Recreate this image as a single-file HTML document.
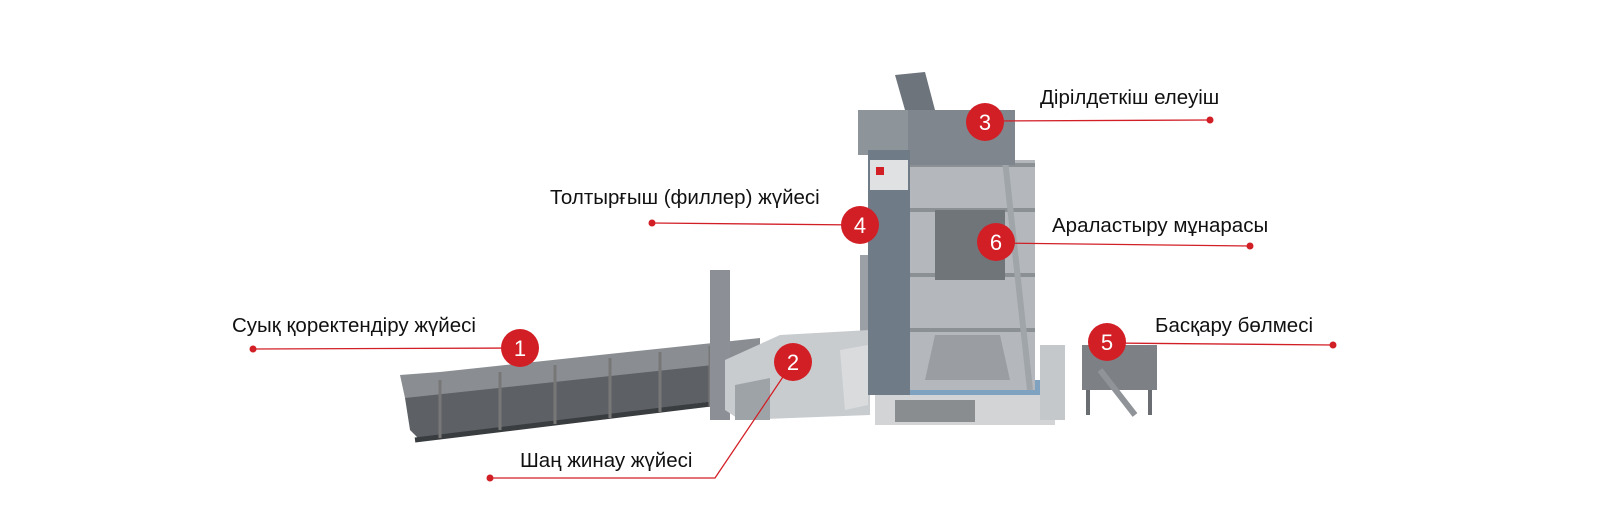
<!DOCTYPE html>
<html><head><meta charset="utf-8"><style>
html,body{margin:0;padding:0;background:#fff;}
svg{display:block}
text{font-family:"Liberation Sans",sans-serif;font-size:20.5px;fill:#111}
.n{font-size:22px;fill:#fff;text-anchor:middle}
</style></head><body>
<svg width="1600" height="521" viewBox="0 0 1600 521" xmlns="http://www.w3.org/2000/svg">
<!-- cold feed bins -->
<polygon points="400,375 440,372 760,338 760,360 440,400 405,398" fill="#8a8e92"/>
<polygon points="405,398 760,360 760,395 420,440 410,430" fill="#5d6166"/>
<line x1="415" y1="440" x2="760" y2="398" stroke="#3a3d40" stroke-width="5"/>
<g stroke="#777" stroke-width="3">
<line x1="440" y1="380" x2="440" y2="438"/><line x1="500" y1="372" x2="500" y2="430"/><line x1="555" y1="365" x2="555" y2="424"/><line x1="610" y1="358" x2="610" y2="418"/><line x1="660" y1="352" x2="660" y2="412"/><line x1="710" y1="346" x2="710" y2="406"/>
</g>
<!-- stack -->
<rect x="710" y="270" width="20" height="150" fill="#8c9096"/>
<rect x="860" y="255" width="9" height="80" fill="#9aa0a6"/>
<!-- dryer / baghouse -->
<polygon points="725,360 780,335 870,330 870,415 740,420 725,410" fill="#c9cccf"/>
<polygon points="735,385 770,378 770,420 735,420" fill="#9ea3a8"/>
<polygon points="840,350 868,345 868,405 845,410" fill="#d9dbdd"/>
<!-- base platform -->
<rect x="875" y="395" width="180" height="30" fill="#d2d4d6"/>
<polygon points="875,395 1055,395 1060,380 885,380" fill="#7fa2c0"/>
<rect x="895" y="400" width="80" height="22" fill="#8a8d90"/>
<rect x="1040" y="345" width="25" height="75" fill="#c5c8cb"/>
<!-- tower frame -->
<rect x="905" y="160" width="130" height="230" fill="#b4b8bc"/>
<g stroke="#8b9095" stroke-width="4">
<line x1="905" y1="165" x2="1035" y2="165"/><line x1="905" y1="210" x2="1035" y2="210"/><line x1="905" y1="275" x2="1035" y2="275"/><line x1="905" y1="330" x2="1035" y2="330"/>
</g>
<rect x="935" y="210" width="70" height="70" fill="#70757a"/>
<polygon points="935,335 1000,335 1010,380 925,380" fill="#9a9ea2"/>
<line x1="1005" y1="160" x2="1030" y2="390" stroke="#a0a5aa" stroke-width="6"/>
<!-- top screen house -->
<rect x="905" y="110" width="110" height="55" fill="#7f868d"/>
<polygon points="895,75 925,72 935,110 905,110" fill="#6d747b"/>
<rect x="858" y="110" width="50" height="45" fill="#8d949a"/>
<!-- elevator column -->
<rect x="868" y="150" width="42" height="245" fill="#6f7b87"/>
<rect x="870" y="160" width="38" height="30" fill="#dfe1e3"/>
<rect x="876" y="167" width="8" height="8" fill="#d21f26"/>
<!-- control room -->
<rect x="1082" y="345" width="75" height="45" fill="#7d8185"/>
<g stroke="#6a6e72" stroke-width="4"><line x1="1088" y1="390" x2="1088" y2="415"/><line x1="1150" y1="390" x2="1150" y2="415"/></g>
<line x1="1100" y1="370" x2="1135" y2="415" stroke="#909498" stroke-width="6"/>
<!-- connectors -->
<g stroke="#d21f26" stroke-width="1.3" fill="none">
<line x1="985" y1="121" x2="1210" y2="120"/>
<line x1="652" y1="223" x2="860" y2="225"/>
<line x1="996" y1="243" x2="1250" y2="246"/>
<line x1="1107" y1="343" x2="1333" y2="345"/>
<line x1="253" y1="349" x2="520" y2="348"/>
<polyline points="793,362 715,478 490,478"/>
</g>
<g fill="#d21f26">
<circle cx="1210" cy="120" r="3.5"/><circle cx="652" cy="223" r="3.5"/><circle cx="1250" cy="246" r="3.5"/><circle cx="1333" cy="345" r="3.5"/><circle cx="253" cy="349" r="3.5"/><circle cx="490" cy="478" r="3.5"/>
<circle cx="985" cy="122" r="19"/><circle cx="860" cy="225" r="19"/><circle cx="996" cy="242" r="19"/><circle cx="1107" cy="342" r="19"/><circle cx="520" cy="348" r="19"/><circle cx="793" cy="362" r="19"/>
</g>
<text class="n" x="985" y="130">3</text>
<text class="n" x="860" y="233">4</text>
<text class="n" x="996" y="250">6</text>
<text class="n" x="1107" y="350">5</text>
<text class="n" x="520" y="356">1</text>
<text class="n" x="793" y="370">2</text>
<text x="1040" y="104">Дірілдеткіш елеуіш</text>
<text x="550" y="204">Толтырғыш (филлер) жүйесі</text>
<text x="1052" y="232">Араластыру мұнарасы</text>
<text x="1155" y="332">Басқару бөлмесі</text>
<text x="232" y="332">Суық қоректендіру жүйесі</text>
<text x="520" y="467">Шаң жинау жүйесі</text>
</svg>
</body></html>
